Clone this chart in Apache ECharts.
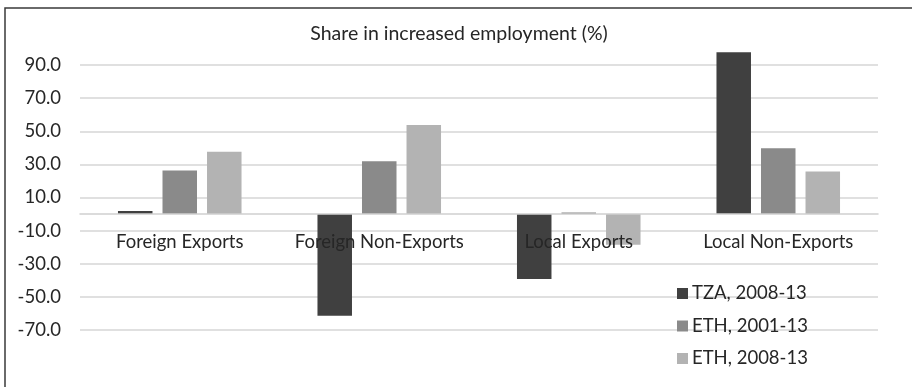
<!DOCTYPE html>
<html>
<head>
<meta charset="utf-8">
<script src="https://cdn.jsdelivr.net/npm/echarts@6/dist/echarts.min.js"></script>
<style>
  html, body { margin: 0; padding: 0; background: #fff; }
  #chart { width: 912px; height: 387px; }
</style>
</head>
<body>
<div id="chart"></div>
<script>
// Employment growth shares by firm type
const categories = ['Foreign Exports', 'Foreign Non-Exports', 'Local Exports', 'Local Non-Exports'];
const seriesNames = ['TZA, 2008-13', 'ETH, 2001-13', 'ETH, 2008-13'];
const tza2008 = [1.8, -61.4, -39.2, 97.7];
const eth2001 = [26.3, 31.9, 1.0, 39.8];
const eth2008 = [37.6, 53.8, -18.5, 25.7];
const yTicks = [-70, -50, -30, -10, 10, 30, 50, 70, 90];
const chartTitle = 'Share in increased employment (%)';

const colors = ['#404040', '#8a8a8a', '#b3b3b3'];
const FONT = 'Lato, "Open Sans", sans-serif';
const FS = 18.5;

const chart = echarts.init(document.getElementById('chart'), null, { renderer: 'canvas' });

const values = [tza2008, eth2001, eth2008];
const yMin = yTicks[0], yMax = yTicks[yTicks.length - 1];
const gridTop = 65, gridBottom = 57, H = 387;
// category labels sit just under the zero line rather than at the plot bottom
const plotH = H - gridTop - gridBottom;
const zeroOffset = plotH * (0 - yMin) / (yMax - yMin);
const labelMargin = 18.5 - zeroOffset;

chart.setOption({
  animation: false,
  backgroundColor: '#ffffff',
  textStyle: { fontFamily: FONT },
  graphic: [{
    type: 'rect',
    shape: { x: 5, y: 8, width: 1000, height: 500 },
    style: { fill: null, stroke: '#3a3a3a', lineWidth: 1.5 },
    silent: true,
    z: 100
  }, {
    type: 'text',
    x: 459,
    y: 34,
    style: {
      text: chartTitle,
      font: '19.5px ' + FONT,
      fill: '#262626',
      textAlign: 'center',
      textVerticalAlign: 'middle'
    },
    silent: true
  }],
  legend: {
    orient: 'vertical',
    left: 677,
    top: 284,
    padding: 0,
    itemWidth: 11,
    itemHeight: 11,
    itemGap: 13.5,
    icon: 'rect',
    data: seriesNames,
    textStyle: { fontFamily: FONT, fontSize: FS, color: '#262626', padding: [0, 0, 0, -1] }
  },
  grid: { left: 80, right: 34, top: gridTop, bottom: gridBottom, containLabel: false },
  xAxis: {
    type: 'category',
    data: categories,
    z: 10,
    axisLine: { onZero: true, lineStyle: { color: '#d0d0d0', width: 1.5 } },
    axisTick: { show: false },
    axisLabel: { interval: 0, fontFamily: FONT, fontSize: FS, color: '#262626', margin: labelMargin },
    splitLine: { show: false }
  },
  yAxis: {
    type: 'value',
    min: yMin,
    max: yMax,
    interval: 20,
    axisLine: { show: false },
    axisTick: { show: false },
    axisLabel: {
      fontFamily: FONT, fontSize: FS, color: '#262626', margin: 19,
      formatter: v => v.toFixed(1)
    },
    splitLine: { lineStyle: { color: '#d6d6d6', width: 1.5 } }
  },
  series: seriesNames.map((name, i) => ({
    name,
    type: 'bar',
    data: values[i],
    barWidth: '17.3%',
    barGap: '29%',
    clip: false,
    itemStyle: { color: colors[i] }
  }))
});
</script>
</body>
</html>
